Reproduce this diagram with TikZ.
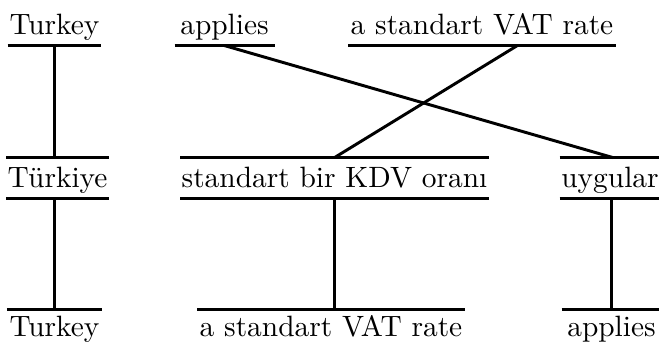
\documentclass[tikz,border=0pt]{standalone}
\usepackage{fontspec}
\begin{document}
\begin{tikzpicture}[x=0.34pt,y=-0.34pt,line width=1pt,
  word/.style={inner xsep=0pt,inner ysep=0pt,anchor=base,font=\fontsize{10}{12}\selectfont},
  toprow/.style={word,text depth=3.1pt},
  midrow/.style={word,text height=9.5pt,text depth=3.4pt},
  botrow/.style={word,text height=8.5pt}]
\useasboundingbox (0,0) rectangle (659,345);
% top row
\node[toprow,minimum width=30.9pt] (t1) at (54.5,35) {Turkey};
\node[toprow,minimum width=33pt] (a1) at (224.5,35) {applies};
\node[toprow,minimum width=89.8pt] (v1) at (482,35) {a standart VAT rate};
% middle row
\node[midrow,minimum width=33.7pt] (m2) at (57.5,187) {Türkiye};
\node[midrow,minimum width=103pt] (s2) at (334.5,187) {standart bir KDV oranı};
\node[midrow,minimum width=33.3pt] (u2) at (610,187) {uygular};
% bottom row
\node[botrow,minimum width=31.3pt] (b3) at (54.5,336) {Turkey};
\node[botrow,minimum width=89.8pt] (v3) at (331,336) {a standart VAT rate};
\node[botrow,minimum width=33pt] (p3) at (611.5,336) {applies};
% bars
\foreach \n in {t1,a1,v1}{\draw (\n.south west) -- (\n.south east);}
\foreach \n in {m2,s2,u2}{\draw (\n.north west) -- (\n.north east); \draw (\n.south west) -- (\n.south east);}
\foreach \n in {b3,v3,p3}{\draw (\n.north west) -- (\n.north east);}
% connectors
\draw (t1.south) -- (t1.south |- m2.north);
\draw (b3.north) -- (b3.north |- m2.south);
\draw (a1.south) -- ([xshift=1pt]u2.north);
\draw ([xshift=12pt]v1.south) -- (s2.north);
\draw (s2.south) -- (s2.south |- v3.north);
\draw (p3.north) -- (p3.north |- u2.south);
\end{tikzpicture}
\end{document}
